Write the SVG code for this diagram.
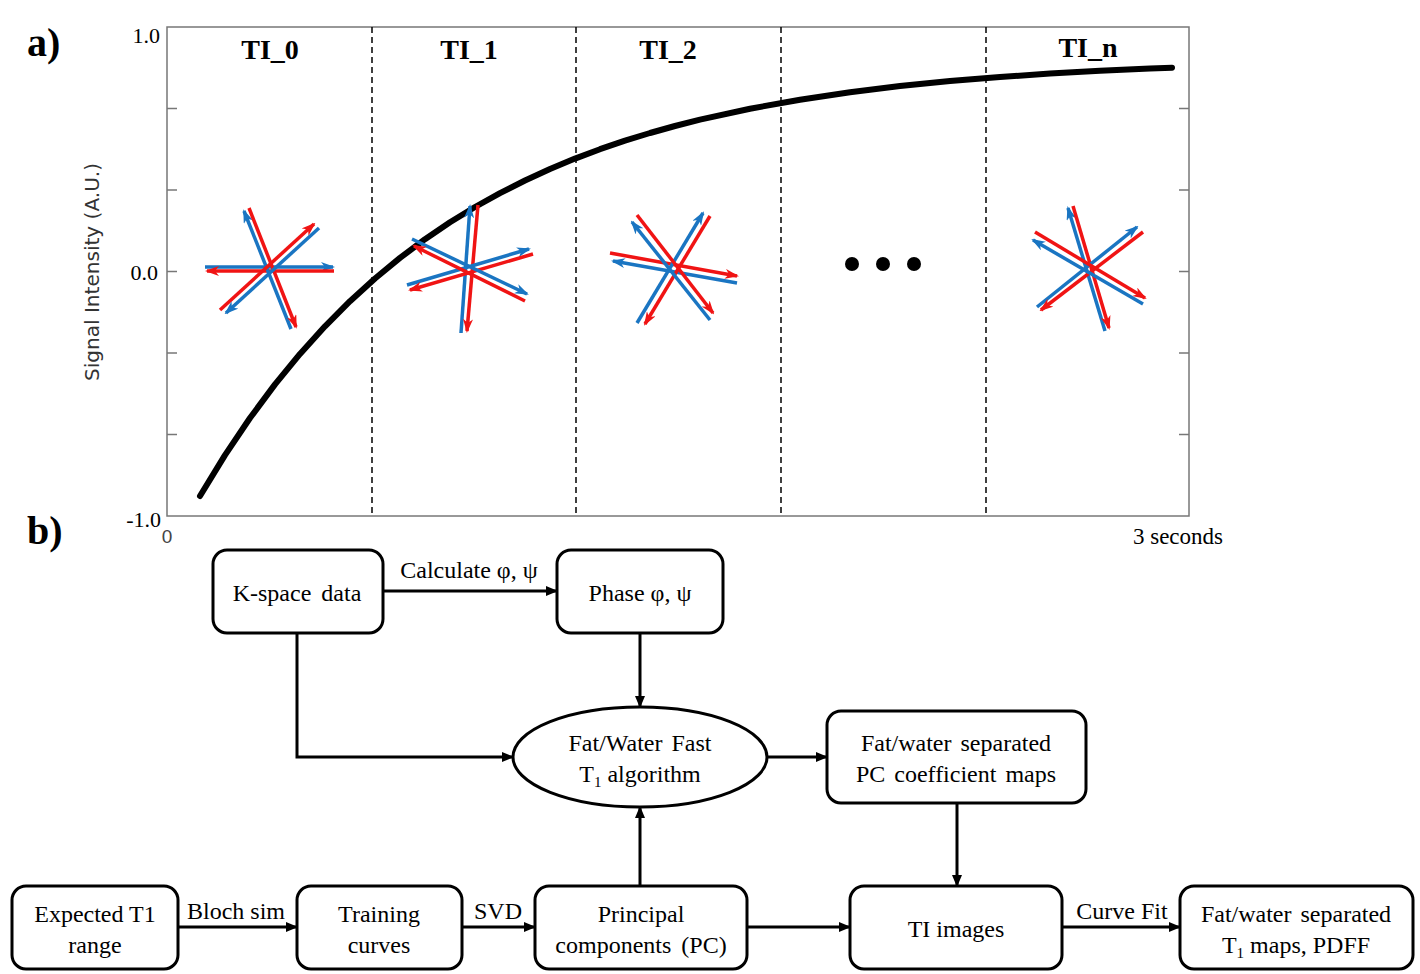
<svg xmlns="http://www.w3.org/2000/svg" width="1420" height="974" viewBox="0 0 1420 974">
<defs>
<style>
.ser{font-family:"Liberation Serif","Times New Roman",serif;fill:#000}
.lbl{font-size:24px;text-anchor:middle}
.ti{font-size:28px;font-weight:bold;text-anchor:middle}
.tick{stroke:#777;stroke-width:1.5}
.dash{stroke:#000;stroke-width:1.5;stroke-dasharray:6,4;fill:none}
.box{fill:#fff;stroke:#000;stroke-width:3}
.con{stroke:#000;stroke-width:3;fill:none;marker-end:url(#ah)}
.b{stroke:#1a75c2;stroke-width:3.5;fill:none;marker-end:url(#mb)}
.r{stroke:#f01414;stroke-width:3.5;fill:none;marker-end:url(#mr)}
</style>
<marker id="ah" markerUnits="userSpaceOnUse" viewBox="0 0 12 10" markerWidth="12" markerHeight="10" refX="11" refY="5" orient="auto"><path d="M0,0 L12,5 L0,10 z" fill="#000"/></marker>
<marker id="mb" markerUnits="userSpaceOnUse" viewBox="0 0 14 10" markerWidth="14" markerHeight="10" refX="12" refY="5" orient="auto"><path d="M0,0 L14,5 L0,10 L4,5 z" fill="#1a75c2"/></marker>
<marker id="mr" markerUnits="userSpaceOnUse" viewBox="0 0 14 10" markerWidth="14" markerHeight="10" refX="12" refY="5" orient="auto"><path d="M0,0 L14,5 L0,10 L4,5 z" fill="#f01414"/></marker>
</defs>
<rect width="1420" height="974" fill="#fff"/>

<g id="panel-a">
<text class="ser" x="27" y="56" font-size="40" font-weight="bold">a)</text>
<rect x="167" y="27" width="1022" height="489" fill="none" stroke="#777" stroke-width="1.5"/>
<g id="ticks">
<line class="tick" x1="167" y1="108.5" x2="177" y2="108.5"/>
<line class="tick" x1="167" y1="190" x2="177" y2="190"/>
<line class="tick" x1="167" y1="271.5" x2="177" y2="271.5"/>
<line class="tick" x1="167" y1="353" x2="177" y2="353"/>
<line class="tick" x1="167" y1="434.5" x2="177" y2="434.5"/>
<line class="tick" x1="1179" y1="108.5" x2="1189" y2="108.5"/>
<line class="tick" x1="1179" y1="190" x2="1189" y2="190"/>
<line class="tick" x1="1179" y1="271.5" x2="1189" y2="271.5"/>
<line class="tick" x1="1179" y1="353" x2="1189" y2="353"/>
<line class="tick" x1="1179" y1="434.5" x2="1189" y2="434.5"/>
</g>
<text class="ser" x="160" y="43" font-size="22" text-anchor="end">1.0</text>
<text class="ser" x="158" y="280" font-size="22" text-anchor="end">0.0</text>
<text class="ser" x="161" y="527" font-size="22" text-anchor="end">-1.0</text>
<text x="167" y="543" font-family="Liberation Sans, Arial, sans-serif" font-size="19" fill="#444" text-anchor="middle">0</text>
<text class="ser" x="1178" y="544" font-size="23" text-anchor="middle">3 seconds</text>
<text transform="translate(99,272) rotate(-90)" font-family="DejaVu Sans, Liberation Sans, sans-serif" font-size="19" fill="#333" text-anchor="middle" textLength="218" lengthAdjust="spacingAndGlyphs">Signal Intensity (A.U.)</text>
<line class="dash" x1="372" y1="27" x2="372" y2="516"/>
<line class="dash" x1="576" y1="27" x2="576" y2="516"/>
<line class="dash" x1="781" y1="27" x2="781" y2="516"/>
<line class="dash" x1="986" y1="27" x2="986" y2="516"/>
<text class="ser ti" x="270" y="59">TI_0</text>
<text class="ser ti" x="469" y="59">TI_1</text>
<text class="ser ti" x="668" y="59">TI_2</text>
<text class="ser ti" x="1088" y="57">TI_n</text>
<polyline points="200,496 225,455.1 250,418 275,384.4 300,353.9 325,326.3 350,301.2 375,278.5 400,257.9 425,239.2 450,222.3 475,207 500,193.1 525,180.5 550,169 575,158.6 600,149.2 625,140.7 650,133 675,126 700,119.6 750,108.7 800,99.7 850,92.2 900,86.1 950,81.1 1000,77 1050,73.6 1100,70.8 1150,68.6 1172,67.7" fill="none" stroke="#000" stroke-width="6" stroke-linecap="round" stroke-linejoin="round"/>
<g id="star0">
<line class="b" x1="205" y1="267" x2="333" y2="267"/>
<line class="r" x1="334" y1="271" x2="207" y2="271"/>
<line class="b" x1="291" y1="329" x2="244" y2="211"/>
<line class="r" x1="249" y1="208" x2="296" y2="327"/>
<line class="r" x1="220" y1="310" x2="314" y2="224"/>
<line class="b" x1="319" y1="228" x2="226" y2="313"/>
</g>
<g id="star1">
<line class="b" x1="461" y1="333" x2="470" y2="206"/>
<line class="r" x1="478" y1="205" x2="467" y2="331"/>
<line class="b" x1="407" y1="285" x2="529" y2="249"/>
<line class="r" x1="533" y1="254" x2="410" y2="290"/>
<line class="b" x1="412" y1="239" x2="527" y2="294"/>
<line class="r" x1="525" y1="301" x2="414" y2="246"/>
</g>
<g id="star2">
<line class="r" x1="610" y1="253" x2="737" y2="276"/>
<line class="b" x1="737" y1="283" x2="613" y2="261"/>
<line class="b" x1="637" y1="323" x2="703" y2="213"/>
<line class="r" x1="710" y1="216" x2="645" y2="324"/>
<line class="r" x1="637" y1="215" x2="713" y2="313"/>
<line class="b" x1="710" y1="320" x2="632" y2="222"/>
</g>
<g id="dots">
<circle cx="852" cy="264" r="7"/>
<circle cx="883" cy="264" r="7"/>
<circle cx="914" cy="264" r="7"/>
</g>
<g id="starn">
<line class="b" x1="1105" y1="331" x2="1068" y2="208"/>
<line class="r" x1="1073" y1="206" x2="1109" y2="328"/>
<line class="b" x1="1037" y1="307" x2="1137" y2="227"/>
<line class="r" x1="1143" y1="232" x2="1041" y2="310"/>
<line class="r" x1="1035" y1="232" x2="1145" y2="298"/>
<line class="b" x1="1143" y1="304" x2="1033" y2="240"/>
</g>
</g>

<text class="ser" x="27" y="544" font-size="40" font-weight="bold">b)</text>

<g id="connectors">
<line class="con" x1="383" y1="591" x2="557" y2="591"/>
<line class="con" x1="640" y1="633" x2="640" y2="707"/>
<polyline class="con" points="297,633 297,757 513,757"/>
<line class="con" x1="767" y1="757" x2="827" y2="757"/>
<line class="con" x1="957" y1="803" x2="957" y2="886"/>
<line class="con" x1="178" y1="927" x2="297" y2="927"/>
<line class="con" x1="462" y1="927" x2="535" y2="927"/>
<line class="con" x1="640" y1="886" x2="640" y2="807"/>
<line class="con" x1="747" y1="927" x2="850" y2="927"/>
<line class="con" x1="1062" y1="927" x2="1180" y2="927"/>
<text class="ser lbl" x="469" y="578">Calculate φ, ψ</text>
<text class="ser lbl" x="236" y="919">Bloch sim</text>
<text class="ser lbl" x="498" y="919">SVD</text>
<text class="ser lbl" x="1122" y="919">Curve Fit</text>
</g>

<g id="kspace">
<rect class="box" x="213" y="550" width="170" height="83" rx="14"/>
<text class="ser lbl" x="297" y="601" word-spacing="4">K-space data</text>
</g>
<g id="phase">
<rect class="box" x="557" y="550" width="166" height="83" rx="14"/>
<text class="ser lbl" x="640" y="601">Phase φ, ψ</text>
</g>
<g id="algorithm">
<ellipse class="box" cx="640" cy="757" rx="127" ry="50"/>
<text class="ser lbl" x="640" y="751" word-spacing="3">Fat/Water Fast</text>
<text class="ser lbl" x="640" y="782">T<tspan font-size="15" dy="5">1</tspan><tspan dy="-5"> algorithm</tspan></text>
</g>
<g id="pcmaps">
<rect class="box" x="827" y="711" width="259" height="92" rx="14"/>
<text class="ser lbl" x="956" y="751" word-spacing="3">Fat/water separated</text>
<text class="ser lbl" x="956" y="782" word-spacing="3">PC coefficient maps</text>
</g>
<g id="expected">
<rect class="box" x="12" y="886" width="166" height="83" rx="14"/>
<text class="ser lbl" x="95" y="922">Expected T1</text>
<text class="ser lbl" x="95" y="953">range</text>
</g>
<g id="training">
<rect class="box" x="297" y="886" width="165" height="83" rx="14"/>
<text class="ser lbl" x="379" y="922">Training</text>
<text class="ser lbl" x="379" y="953">curves</text>
</g>
<g id="pc">
<rect class="box" x="535" y="886" width="212" height="83" rx="14"/>
<text class="ser lbl" x="641" y="922">Principal</text>
<text class="ser lbl" x="641" y="953" word-spacing="4">components (PC)</text>
</g>
<g id="tiimages">
<rect class="box" x="850" y="886" width="212" height="83" rx="14"/>
<text class="ser lbl" x="956" y="937">TI images</text>
</g>
<g id="t1maps">
<rect class="box" x="1180" y="886" width="233" height="83" rx="14"/>
<text class="ser lbl" x="1296" y="922" word-spacing="3">Fat/water separated</text>
<text class="ser lbl" x="1296" y="953">T<tspan font-size="15" dy="5">1</tspan><tspan dy="-5"> maps, PDFF</tspan></text>
</g>
</svg>
